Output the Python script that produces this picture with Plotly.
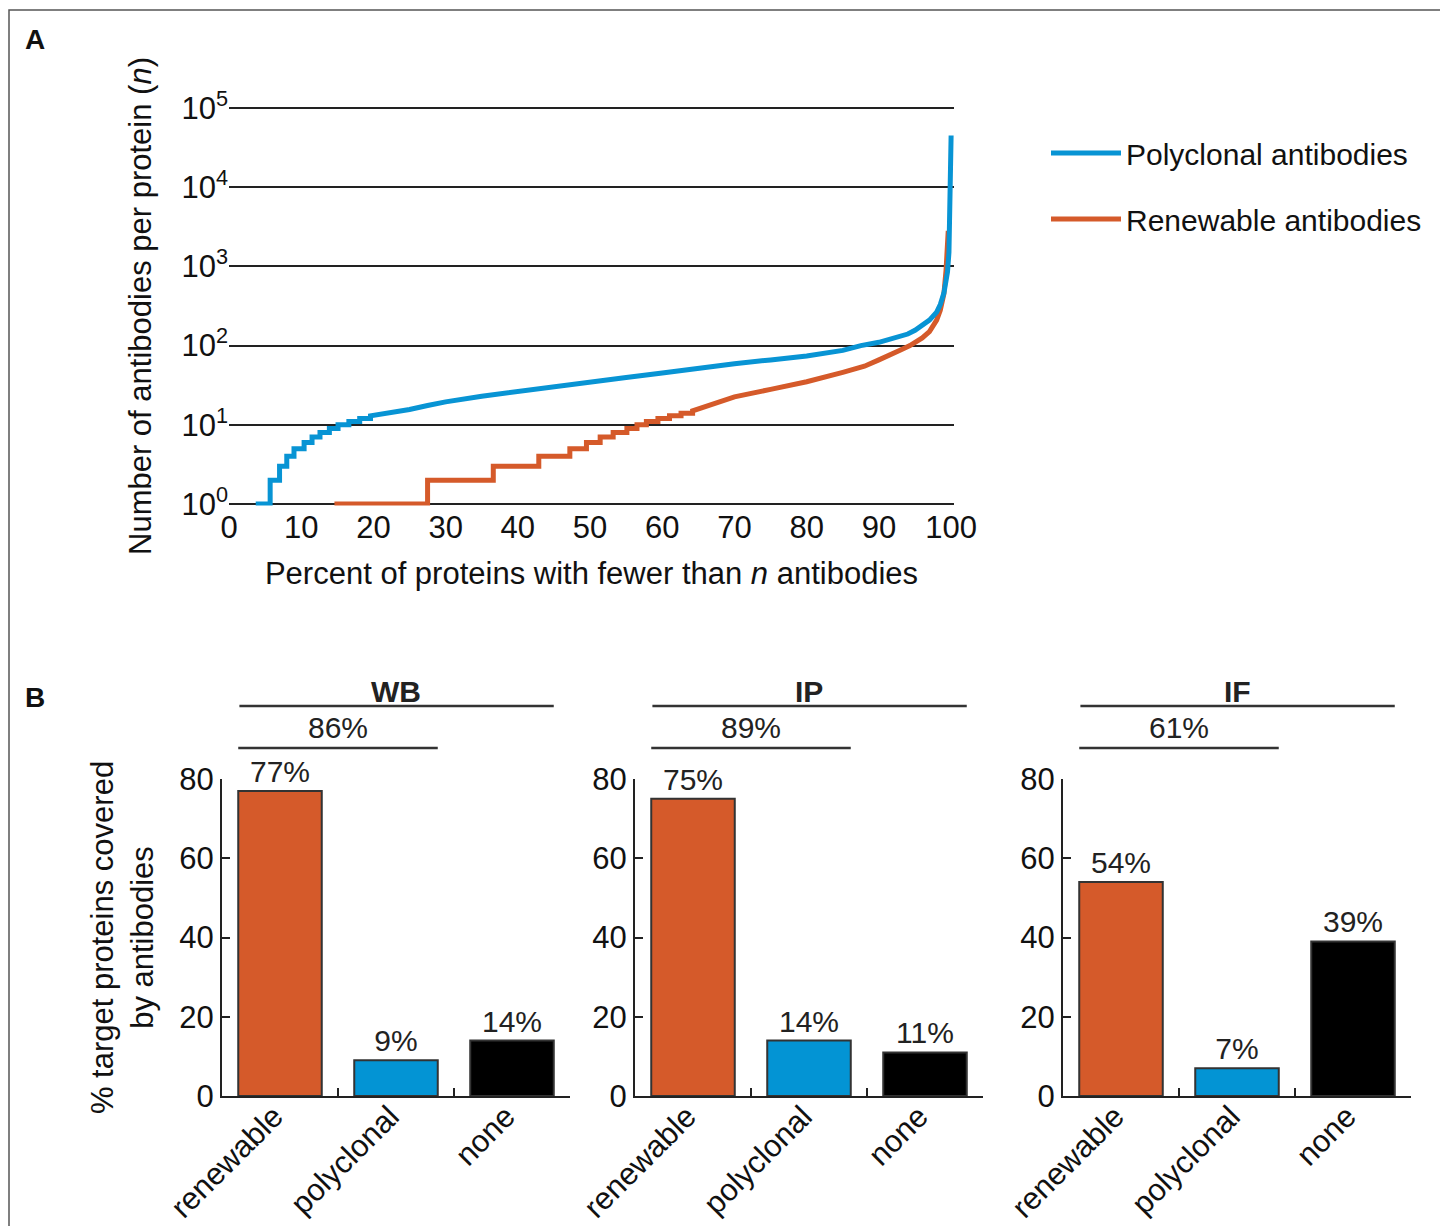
import plotly.graph_objects as go

# page is offset by the 8px body margin, so the figure is 8px smaller
OFF = 8
W, H = 1448 - OFF, 1226 - OFF
FONT = "Liberation Sans, Arial, sans-serif"
BLUE = "#0894d4"
ORANGE = "#d55a2a"
DARK = "#222222"

# ---------------- Panel A data (cumulative distributions) ----------------
# staircase part: boundaries of each integer level (len = levels + 1)
poly_step_pct = [3.7, 5.7, 7.0, 8.0, 9.0, 10.4, 11.5, 12.6, 13.9, 15.1, 16.6, 18.1, 19.6]
poly_step_n = [1, 2, 3, 4, 5, 6, 7, 8, 9, 10, 11, 12]
poly_tail_pct = [19.6, 21, 22.5, 25, 27.5, 30, 35, 40, 45, 50, 55, 60, 65, 70, 75, 80, 85,
                 87.5, 90, 92, 94, 95, 96, 97, 98, 98.5, 99, 99.3, 99.5, 99.7, 99.85, 100]
poly_tail_n = [13, 13.6, 14.3, 15.6, 17.5, 19.5, 23, 26.5, 30, 34.5, 39.5, 45, 52, 59, 66, 74, 87,
               100, 110, 122, 140, 156, 178, 210, 265, 330, 460, 650, 850, 1500, 5000, 45000]

renew_step_pct = [14.6, 27.5, 36.6, 42.9, 47.2, 49.5, 51.4, 53.2, 55.1, 56.5, 57.8, 59.4,
                  61.0, 62.6, 64.2]
renew_step_n = [1, 2, 3, 4, 5, 6, 7, 8, 9, 10, 11, 12, 13, 14]
renew_tail_pct = [64.2, 66, 68, 70, 75, 80, 85, 88, 90, 92, 93, 94.3, 95, 96, 97, 98, 98.5,
                  99, 99.3, 99.6]
renew_tail_n = [15, 17, 19.6, 22.5, 28, 35, 46, 55, 66, 78, 88, 100, 110, 125, 150, 210, 280,
                450, 900, 2800]

y_tick_vals = [1, 10, 100, 1000, 10000, 100000]
y_tick_text = ["10<sup>0</sup>", "10<sup>1</sup>", "10<sup>2</sup>",
               "10<sup>3</sup>", "10<sup>4</sup>", "10<sup>5</sup>"]
x_tick_vals = [0, 10, 20, 30, 40, 50, 60, 70, 80, 90, 100]

# ---------------- Panel B data ----------------
assays = ["WB", "IP", "IF"]
categories = ["renewable", "polyclonal", "none"]
wb_vals = [77, 9, 14]
ip_vals = [75, 14, 11]
if_vals = [54, 7, 39]
bar_colors = [ORANGE, "#0394d4", "#000000"]


def staircase(step_pct, step_n, tail_pct, tail_n):
    xs, ys = [], []
    for i, n in enumerate(step_n):
        xs += [step_pct[i], step_pct[i + 1]]
        ys += [n, n]
    xs += list(tail_pct)
    ys += list(tail_n)
    return xs, ys


def fx(p):
    return (p - OFF) / W


def fy(p):
    return 1 - (p - OFF) / H


fig = go.Figure()

rx, ry = staircase(renew_step_pct, renew_step_n, renew_tail_pct, renew_tail_n)
px_, py_ = staircase(poly_step_pct, poly_step_n, poly_tail_pct, poly_tail_n)

fig.add_trace(go.Scatter(x=rx, y=ry, mode="lines", name="Renewable antibodies",
                         line=dict(color=ORANGE, width=5), legendrank=2,
                         legendgroup="r", xaxis="x", yaxis="y"))
fig.add_trace(go.Scatter(x=px_, y=py_, mode="lines", name="Polyclonal antibodies",
                         line=dict(color=BLUE, width=5), legendrank=1,
                         legendgroup="p", xaxis="x", yaxis="y"))

# bars
panel_vals = [wb_vals, ip_vals, if_vals]
for i, vals in enumerate(panel_vals):
    fig.add_trace(go.Bar(
        x=categories, y=vals, xaxis=f"x{i+2}", yaxis=f"y{i+2}",
        marker=dict(color=bar_colors, line=dict(color="#333333", width=2)),
        width=0.72, text=[f"{v}%" for v in vals], textposition="outside",
        textfont=dict(size=30, color="#222", family=FONT), cliponaxis=False,
        constraintext="none", showlegend=False))

layout = dict(
    width=W, height=H, margin=dict(l=0, r=0, t=0, b=0, autoexpand=False),
    paper_bgcolor="white", plot_bgcolor="white",
    font=dict(family=FONT, size=31, color="#111"),
    showlegend=True,
    legend=dict(x=fx(1046), y=fy(127), xanchor="left", yanchor="top",
                font=dict(size=30, color="#111"), itemwidth=70,
                tracegroupgap=24, bgcolor="rgba(0,0,0,0)"),
    xaxis=dict(domain=[fx(229), fx(954)], range=[0, 100.4], tickvals=x_tick_vals,
               showgrid=False, zeroline=False, showline=False, ticks="",
               tickfont=dict(size=31), automargin=False,
               title=dict(text="Percent of proteins with fewer than <i>n</i> antibodies",
                          font=dict(size=31), standoff=18),
               anchor="y"),
    yaxis=dict(domain=[fy(505.6), fy(106.4)], type="log", range=[-0.02, 5.02],
               tickvals=y_tick_vals, ticktext=y_tick_text, showgrid=True,
               gridcolor=DARK, gridwidth=2.2, zeroline=False, showline=False,
               ticks="", tickfont=dict(size=31), automargin=False,
               title=dict(text="Number of antibodies per protein (<i>n</i>)",
                          font=dict(size=31), standoff=20),
               anchor="x"),
)

x_px = [(222, 570), (635, 983), (1063, 1411)]
for i, (a, b) in enumerate(x_px):
    k = i + 2
    layout[f"xaxis{k}"] = dict(
        domain=[fx(a), fx(b)], type="category", range=[-0.5, 2.5], anchor=f"y{k}",
        tickson="boundaries", ticks="inside", ticklen=8, tickwidth=2, tickcolor=DARK,
        showline=True, linecolor=DARK, linewidth=2, showgrid=False, zeroline=False,
        tickangle=-45, tickfont=dict(size=31), automargin=False,
        ticklabelstandoff=-12, ticklabelshift=-6)
    yd = dict(
        domain=[fy(1096), fy(779)], range=[0, 80], anchor=f"x{k}",
        tickvals=[0, 20, 40, 60, 80], ticks="inside", ticklen=8, tickwidth=2,
        tickcolor=DARK, showline=True, linecolor=DARK, linewidth=2,
        showgrid=False, zeroline=False, tickfont=dict(size=31), automargin=False)
    if i == 0:
        yd["title"] = dict(text="% target proteins covered<br>by antibodies",
                           font=dict(size=31), standoff=16)
    layout[f"yaxis{k}"] = yd

fig.update_layout(**layout)

# brackets & assay labels
shapes = []
annotations = []
for i, (assay, vals) in enumerate(zip(assays, panel_vals)):
    k = i + 2
    covered = vals[0] + vals[1]
    shapes.append(dict(type="line", xref=f"x{k}", yref="paper", x0=-0.35, x1=2.36,
                       y0=fy(706), y1=fy(706), line=dict(color="#333", width=2.5)))
    shapes.append(dict(type="line", xref=f"x{k}", yref="paper", x0=-0.36, x1=1.36,
                       y0=fy(748), y1=fy(748), line=dict(color="#333", width=2.5)))
    annotations.append(dict(text=f"<b>{assay}</b>", xref=f"x{k}", yref="paper",
                            x=1.0, y=fy(691), xanchor="center", yanchor="middle",
                            showarrow=False, font=dict(size=30, color="#222")))
    annotations.append(dict(text=f"{covered}%", xref=f"x{k}", yref="paper",
                            x=0.5, y=fy(727), xanchor="center", yanchor="middle",
                            showarrow=False, font=dict(size=30, color="#222")))

annotations.append(dict(text="<b>A</b>", xref="paper", yref="paper", x=fx(35),
                        y=fy(40), xanchor="center", yanchor="middle", showarrow=False,
                        font=dict(size=28, color="#111")))
annotations.append(dict(text="<b>B</b>", xref="paper", yref="paper", x=fx(35),
                        y=fy(697), xanchor="center", yanchor="middle", showarrow=False,
                        font=dict(size=28, color="#111")))

# outer frame
shapes.append(dict(type="rect", xref="paper", yref="paper", x0=fx(9), x1=fx(1443),
                   y0=-0.02, y1=fy(10), line=dict(color="#555", width=1.5),
                   fillcolor="rgba(0,0,0,0)", layer="below"))

fig.update_layout(shapes=shapes, annotations=annotations)
fig.write_html("out.html")
